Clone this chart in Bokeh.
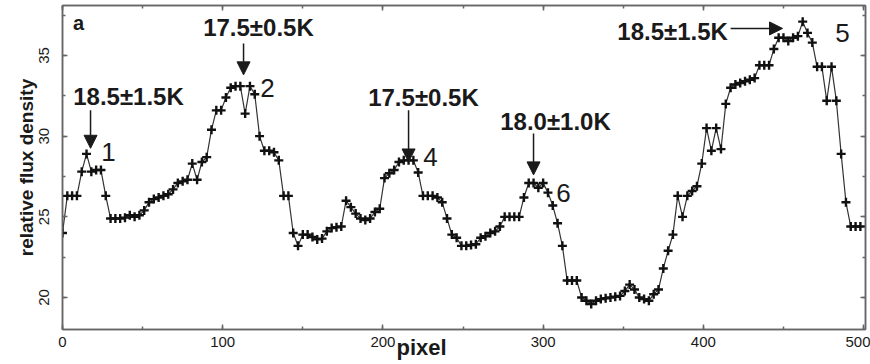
from bokeh.plotting import figure
from bokeh.models import (LinearAxis, Range1d, Label, Arrow, NormalHead,
                          SingleIntervalTicker, CustomJSTickFormatter, FixedTicker)
from bokeh.embed import file_html
from bokeh.resources import INLINE

# ---------------- data ----------------
pixel = list(range(0, 499, 3))
flux = [
    24.0, 26.3, 26.3, 26.3, 27.8, 28.9, 27.8, 27.9, 27.9, 26.3,
    24.9, 24.9, 24.9, 24.95, 25.1, 25.0, 25.1, 25.4, 25.9, 26.1,
    26.2, 26.3, 26.4, 26.7, 27.1, 27.2, 27.3, 28.3, 27.3, 28.4,
    28.7, 30.4, 31.6, 31.6, 32.4, 33.0, 33.1, 33.1, 31.4, 33.1,
    32.6, 30.0, 29.1, 29.1, 29.0, 28.5, 26.3, 26.3, 24.0, 23.2,
    23.9, 23.9, 23.75, 23.6, 23.65, 24.1, 24.3, 24.35, 24.4, 26.0,
    25.6, 25.2, 24.9, 24.8, 24.9, 25.3, 25.5, 27.4, 27.7, 27.9,
    28.4, 28.5, 28.5, 28.5, 27.75, 26.3, 26.3, 26.3, 26.2, 25.9,
    24.9, 23.9, 23.7, 23.2, 23.2, 23.25, 23.3, 23.7, 23.8, 24.0,
    24.1, 24.4, 25.0, 25.0, 25.0, 25.0, 26.2, 27.1, 27.1, 26.8,
    27.1, 26.5, 25.7, 24.6, 23.2, 21.05, 21.05, 21.05, 20.0, 19.8,
    19.6, 19.8, 19.9, 19.95, 20.0, 20.05, 20.1, 20.4, 20.8, 20.5,
    20.0, 19.9, 19.8, 20.2, 20.5, 21.8, 22.9, 23.9, 26.3, 25.0,
    26.3, 26.6, 26.9, 28.3, 30.5, 29.1, 30.5, 29.2, 32.0, 33.0,
    33.2, 33.3, 33.4, 33.5, 33.6, 34.4, 34.4, 34.4, 35.4, 36.1,
    36.1, 35.9, 36.1, 36.2, 37.1, 36.4, 35.8, 34.3, 34.3, 32.2,
    34.3, 32.2, 28.9, 25.9, 24.4, 24.4, 24.4,
]

# annotations: (text, x, y)
temp_labels = [
    ("18.5\u00b11.5K", 41.2, 32.46),
    ("17.5\u00b10.5K", 122.3, 36.74),
    ("17.5\u00b10.5K", 225.3, 32.40),
    ("18.0\u00b11.0K", 307.7, 30.91),
    ("18.5\u00b11.5K", 380.8, 36.49),
]
peak_labels = [("1", 28.7, 29.0), ("2", 128.0, 32.96), ("4", 229.7, 28.68),
               ("6", 312.7, 26.45), ("5", 486.9, 36.37)]
arrows = [  # x_start, y_start, x_end, y_end
    (17.5, 31.6, 17.5, 29.25),
    (113.0, 35.75, 113.0, 33.8),
    (216.0, 31.6, 216.0, 28.4),
    (294.0, 30.17, 294.0, 27.6),
    (417.0, 36.68, 449.4, 36.68),
]
x_title = "pixel"
x_title_center = 224.1   # where the x title sits along the x axis

SANS = "Liberation Sans"
INK = "#1a1a1a"
FRAME = "#666666"

p = figure(width=870, height=364, output_backend="svg", toolbar_location=None,
           x_range=Range1d(0, 501.2), y_range=Range1d(18.016, 38.10),
           min_border_left=62, min_border_right=5, min_border_top=5,
           min_border_bottom=35, x_axis_location=None, y_axis_location=None)
p.grid.visible = False
p.outline_line_color = FRAME
p.outline_line_width = 1.5
p.background_fill_color = "white"
p.border_fill_color = "white"

def style_axis(ax, ticker, labels=True):
    ax.ticker = ticker
    ax.axis_line_color = FRAME
    ax.axis_line_width = 1.5
    ax.major_tick_in = 5
    ax.major_tick_out = 0
    ax.minor_tick_in = 3
    ax.minor_tick_out = 0
    ax.major_tick_line_color = FRAME
    ax.minor_tick_line_color = FRAME
    ax.major_tick_line_width = 1.5
    ax.minor_tick_line_width = 1.5
    if not labels:
        ax.formatter = CustomJSTickFormatter(code="return ''")
        ax.major_label_text_font_size = "0px"
        ax.major_label_standoff = 0
    else:
        ax.major_label_text_font = SANS
        ax.major_label_text_font_size = "15px"
        ax.major_label_text_color = INK

xb = LinearAxis()
style_axis(xb, SingleIntervalTicker(interval=100, num_minor_ticks=2))
xb.major_label_standoff = 7
p.add_layout(xb, "below")

# second, invisible bottom axis whose single tick label is the x title
xlab = LinearAxis(ticker=FixedTicker(ticks=[x_title_center]),
                  formatter=CustomJSTickFormatter(code="return '%s'" % x_title),
                  axis_line_color=None, major_tick_line_color=None,
                  minor_tick_line_color=None,
                  major_tick_in=0, major_tick_out=0, minor_tick_in=0, minor_tick_out=0,
                  major_label_standoff=-15,
                  major_label_text_font=SANS, major_label_text_font_style="bold",
                  major_label_text_font_size="22px", major_label_text_color=INK)
p.add_layout(xlab, "below")

xt = LinearAxis()
style_axis(xt, SingleIntervalTicker(interval=100, num_minor_ticks=2), labels=False)
p.add_layout(xt, "above")

yl = LinearAxis()
style_axis(yl, SingleIntervalTicker(interval=5, num_minor_ticks=2))
yl.major_label_orientation = "vertical"
yl.major_label_standoff = 13
yl.axis_label = "relative flux density"
yl.axis_label_text_font = SANS
yl.axis_label_text_font_style = "bold"
yl.axis_label_text_font_size = "19px"
yl.axis_label_text_color = INK
yl.axis_label_standoff = 0
p.add_layout(yl, "left")

yr = LinearAxis()
style_axis(yr, SingleIntervalTicker(interval=5, num_minor_ticks=2), labels=False)
p.add_layout(yr, "right")

p.line(pixel, flux, line_color="#333333", line_width=1.2)
p.scatter(pixel, flux, marker="cross", size=9, line_width=2.4, line_color="#111111")

for xs, ys, xe, ye in arrows:
    p.add_layout(Arrow(x_start=xs, y_start=ys, x_end=xe, y_end=ye,
                       line_color=INK, line_width=1.5,
                       end=NormalHead(size=13, fill_color=INK, line_color=INK)))

for t, x, y in temp_labels:
    p.add_layout(Label(x=x, y=y, text=t, text_align="center", text_baseline="middle",
                       text_font=SANS, text_font_style="bold",
                       text_font_size="24px", text_color=INK))
for t, x, y in peak_labels:
    p.add_layout(Label(x=x, y=y, text=t, text_align="center", text_baseline="middle",
                       text_font=SANS, text_font_size="26px", text_color=INK))

p.add_layout(Label(x=10.0, y=37.0, text="a", text_align="center", text_baseline="middle",
                   text_font=SANS, text_font_style="bold", text_font_size="20px",
                   text_color=INK))

open("out.html", "w").write(file_html(p, INLINE))
